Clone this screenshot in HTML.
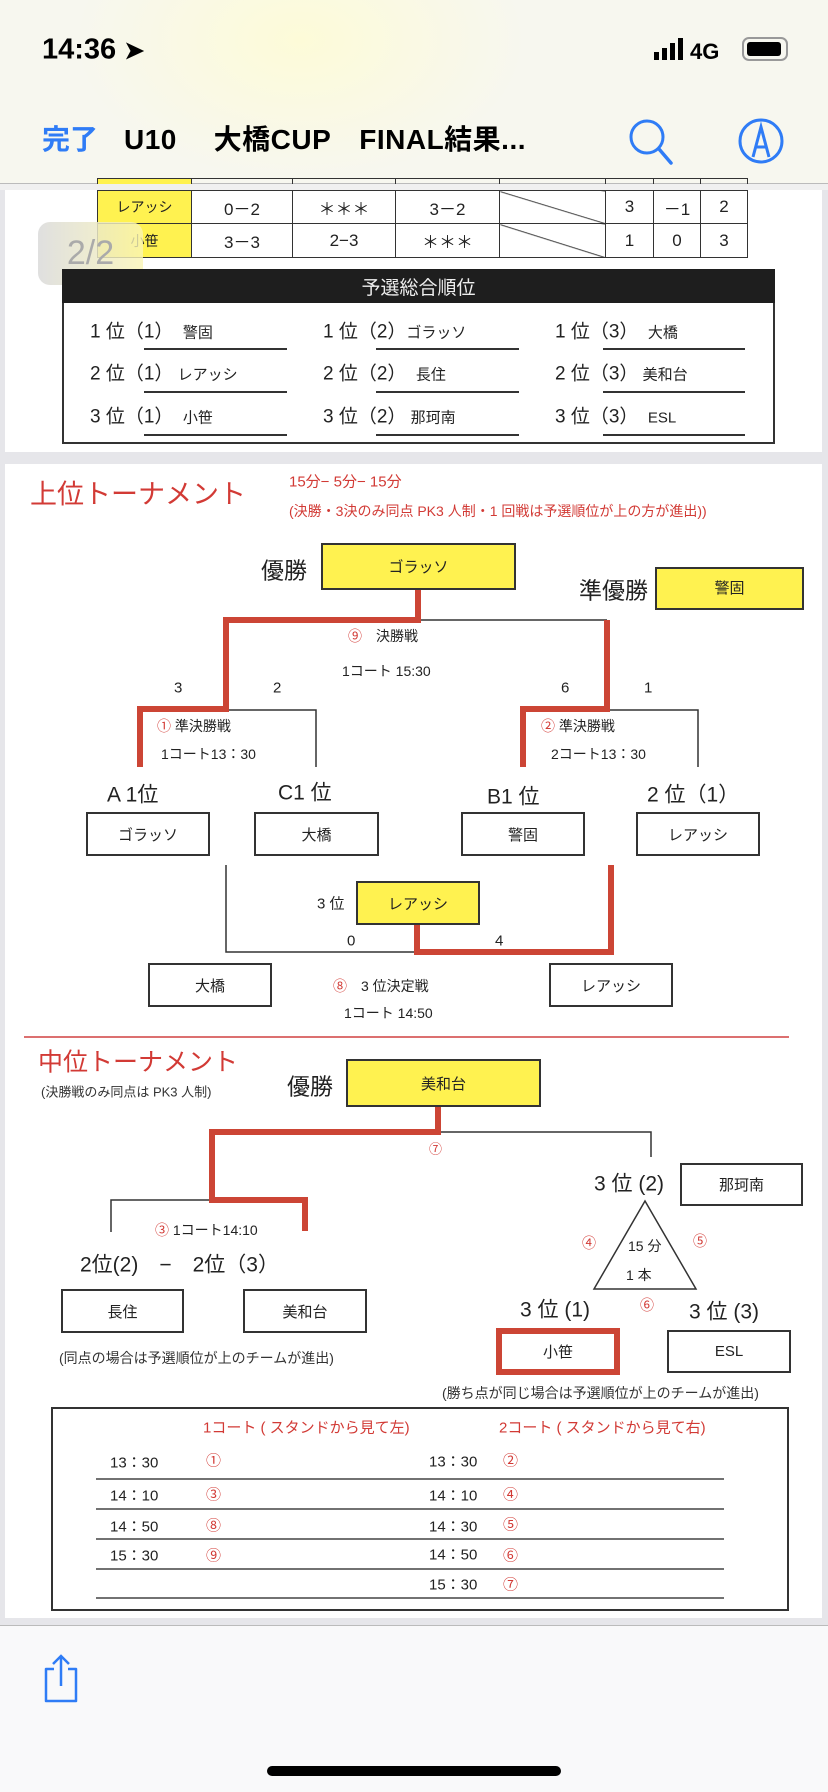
<!DOCTYPE html>
<html><head><meta charset="utf-8">
<style>
*{margin:0;padding:0;box-sizing:border-box}
body{width:828px;height:1792px;position:relative;overflow:hidden;background:#e6e6ea;font-family:"Liberation Sans","Noto Sans CJK JP",sans-serif;color:#222}
.a{position:absolute}
.t{position:absolute;white-space:nowrap;transform:translateY(-50%);line-height:1}
.bx{position:absolute;border:2px solid #333;background:#fff;display:flex;align-items:center;justify-content:center;font-size:15px}
.y{background:#fff250}
.r{color:#d23a35}
.c td{border:1.5px solid #333;text-align:center;font-size:17px}
</style></head><body>
<!-- status/nav -->
<div class="a" style="left:0;top:0;width:828px;height:184px;background:radial-gradient(ellipse 320px 200px at 300px 40px,#fdfbd8,#f7f7ef 70%);border-bottom:1px solid #bbb"></div>
<div class="t" style="left:42px;top:50px;font-size:29px;font-weight:bold;color:#000">14:36 <span style="font-size:24px">➤</span></div>
<svg class="a" style="left:650px;top:36px" width="140" height="28"><rect x="4" y="16" width="5" height="8" fill="#000"/><rect x="12" y="12" width="5" height="12" fill="#000"/><rect x="20" y="7" width="5" height="17" fill="#000"/><rect x="28" y="2" width="5" height="22" fill="#000"/><text x="40" y="23" font-size="22" font-family="Liberation Sans" font-weight="bold">4G</text><rect x="93" y="2" width="44" height="22" rx="6" fill="none" stroke="#999" stroke-width="2"/><rect x="97" y="6" width="34" height="14" rx="3" fill="#000"/></svg>
<div class="t" style="left:42px;top:140px;font-size:28px;font-weight:bold;color:#2f7cf6">完了</div>
<div class="t" style="left:124px;top:140px;font-size:28px;font-weight:bold;color:#000;letter-spacing:0.5px">U10　 大橋CUP　FINAL結果...</div>
<svg class="a" style="left:625px;top:115px" width="170" height="54"><circle cx="22" cy="22" r="16" fill="none" stroke="#2f7cf6" stroke-width="3"/><line x1="34" y1="34" x2="46" y2="48" stroke="#2f7cf6" stroke-width="3.5" stroke-linecap="round"/><circle cx="136" cy="26" r="21" fill="none" stroke="#2f7cf6" stroke-width="3"/><path d="M128 42 L136 12 L144 42 M131 32 L141 32" fill="none" stroke="#2f7cf6" stroke-width="3"/></svg>

<!-- page 1 -->
<div class="a" style="left:5px;top:185px;width:817px;height:267px;background:#fff"></div>
<table class="a c" style="left:97px;top:178px;border-collapse:collapse">
<tr style="height:12px"><td style="width:94px;background:#fff250"></td><td style="width:101px"></td><td style="width:103px"></td><td style="width:104px"></td><td style="width:106px"></td><td style="width:48px"></td><td style="width:47px"></td><td style="width:47px"></td></tr>
<tr style="height:33px"><td style="background:#fff250;font-size:14px">レアッシ</td><td>0－2</td><td>＊＊＊</td><td>3－2</td><td style="background:linear-gradient(to bottom left,transparent 49%,#333 50%,transparent 52%)"></td><td>3</td><td>－1</td><td>2</td></tr>
<tr style="height:34px"><td style="background:#fff250;font-size:14px">小笹</td><td>3－3</td><td>2−3</td><td>＊＊＊</td><td style="background:linear-gradient(to bottom left,transparent 49%,#333 50%,transparent 52%)"></td><td>1</td><td>0</td><td>3</td></tr>
</table>
<div class="a" style="left:0;top:184px;width:828px;height:6px;background:#f0f0f0"></div>
<div class="a" style="left:38px;top:222px;width:105px;height:63px;border-radius:12px;background:linear-gradient(90deg,rgba(220,220,220,.9),rgba(250,245,180,.8));color:#aaa;font-size:34px;display:flex;align-items:center;justify-content:center">2/2</div>
<div class="a" style="left:62px;top:269px;width:713px;height:175px;border:2px solid #333"></div>
<div class="a" style="left:62px;top:269px;width:713px;height:34px;background:#1e1e1e;color:#eee;font-size:19px;display:flex;align-items:center;justify-content:center">予選総合順位</div>
<div class="t" style="left:90px;top:332px;font-size:19px">1 位（1）　<span style="font-size:15px">警固</span></div>
<div class="t" style="left:323px;top:332px;font-size:19px">1 位（2）<span style="font-size:15px">ゴラッソ</span></div>
<div class="t" style="left:555px;top:332px;font-size:19px">1 位（3）　<span style="font-size:15px">大橋</span></div>
<div class="t" style="left:90px;top:374px;font-size:19px">2 位（1）<span style="font-size:15px"> レアッシ</span></div>
<div class="t" style="left:323px;top:374px;font-size:19px">2 位（2）　<span style="font-size:15px">長住</span></div>
<div class="t" style="left:555px;top:374px;font-size:19px">2 位（3）<span style="font-size:15px"> 美和台</span></div>
<div class="t" style="left:90px;top:417px;font-size:19px">3 位（1）　<span style="font-size:15px">小笹</span></div>
<div class="t" style="left:323px;top:417px;font-size:19px">3 位（2）<span style="font-size:15px"> 那珂南</span></div>
<div class="t" style="left:555px;top:417px;font-size:19px">3 位（3）　<span style="font-size:15px">ESL</span></div>
<svg class="a" style="left:0;top:0" width="828" height="460"><g stroke="#333" stroke-width="2"><line x1="144" y1="349" x2="287" y2="349"/><line x1="376" y1="349" x2="519" y2="349"/><line x1="603" y1="349" x2="745" y2="349"/><line x1="144" y1="392" x2="287" y2="392"/><line x1="376" y1="392" x2="519" y2="392"/><line x1="603" y1="392" x2="745" y2="392"/><line x1="144" y1="435" x2="287" y2="435"/><line x1="376" y1="435" x2="519" y2="435"/><line x1="603" y1="435" x2="745" y2="435"/></g></svg>

<!-- page 2 -->
<div class="a" style="left:5px;top:464px;width:817px;height:1154px;background:#fff"></div>
<div class="t r" style="left:30px;top:495px;font-size:27px">上位トーナメント</div>
<div class="t r" style="left:289px;top:482px;font-size:15px">15分− 5分− 15分</div>
<div class="t r" style="left:289px;top:511px;font-size:14px">(決勝・3決のみ同点 PK3 人制・1 回戦は予選順位が上の方が進出))</div>
<div class="bx y" style="left:321px;top:543px;width:195px;height:47px">ゴラッソ</div>
<div class="t" style="left:261px;top:571px;font-size:23px">優勝</div>
<div class="t" style="left:579px;top:591px;font-size:23px">準優勝</div>
<div class="bx y" style="left:655px;top:567px;width:149px;height:43px;align-items:flex-start;padding-top:8px">警固</div>

<svg class="a" style="left:0;top:0" width="828" height="1620">
<g fill="none" stroke="#333" stroke-width="1.5">
<polyline points="418,620 607,620"/>
<polyline points="607,710 698,710 698,767"/>
<polyline points="226,710 316,710 316,767"/>
<polyline points="226,865 226,952 417,952"/>
<polyline points="438,1132 651,1132 651,1157"/>
<polyline points="212,1200 111,1200 111,1232"/>
<polygon points="645,1201 594,1289 696,1289"/>
</g>
<g fill="none" stroke="#cc4535" stroke-width="6">
<polyline points="418,590 418,620 226,620 226,709 140,709 140,767"/>
<polyline points="607,620 607,709 523,709 523,767"/>
<polyline points="611,865 611,952 417,952 417,925"/>
<polyline points="438,1107 438,1132 212,1132 212,1200 305,1200 305,1231"/>
</g>
<line x1="24" y1="1037" x2="789" y2="1037" stroke="#d04040" stroke-width="1.5"/>
</svg>

<div class="t" style="left:348px;top:636px;font-size:14px"><span class="r">⑨</span>　決勝戦</div>
<div class="t" style="left:342px;top:671px;font-size:14px">1コート 15:30</div>
<div class="t" style="left:174px;top:688px;font-size:15px">3</div>
<div class="t" style="left:273px;top:688px;font-size:15px">2</div>
<div class="t" style="left:561px;top:688px;font-size:15px">6</div>
<div class="t" style="left:644px;top:688px;font-size:15px">1</div>
<div class="t" style="left:157px;top:726px;font-size:14px"><span class="r">①</span> 準決勝戦</div>
<div class="t" style="left:161px;top:754px;font-size:14px">1コート13：30</div>
<div class="t" style="left:541px;top:726px;font-size:14px"><span class="r">②</span> 準決勝戦</div>
<div class="t" style="left:551px;top:754px;font-size:14px">2コート13：30</div>
<div class="t" style="left:107px;top:795px;font-size:21px">A 1位</div>
<div class="t" style="left:278px;top:793px;font-size:21px">C1 位</div>
<div class="t" style="left:487px;top:797px;font-size:21px">B1 位</div>
<div class="t" style="left:647px;top:795px;font-size:21px">2 位（1）</div>
<div class="bx" style="left:86px;top:812px;width:124px;height:44px">ゴラッソ</div>
<div class="bx" style="left:254px;top:812px;width:125px;height:44px">大橋</div>
<div class="bx" style="left:461px;top:812px;width:124px;height:44px">警固</div>
<div class="bx" style="left:636px;top:812px;width:124px;height:44px">レアッシ</div>
<div class="bx y" style="left:356px;top:881px;width:124px;height:44px">レアッシ</div>
<div class="t" style="left:317px;top:904px;font-size:15px">3 位</div>
<div class="t" style="left:347px;top:941px;font-size:15px">0</div>
<div class="t" style="left:495px;top:941px;font-size:15px">4</div>
<div class="bx" style="left:148px;top:963px;width:124px;height:44px">大橋</div>
<div class="bx" style="left:549px;top:963px;width:124px;height:44px">レアッシ</div>
<div class="t" style="left:333px;top:986px;font-size:14px"><span class="r">⑧</span>　3 位決定戦</div>
<div class="t" style="left:344px;top:1013px;font-size:14px">1コート 14:50</div>

<div class="t r" style="left:38px;top:1063px;font-size:25px">中位トーナメント</div>
<div class="t" style="left:41px;top:1092px;font-size:13px;color:#333">(決勝戦のみ同点は PK3 人制)</div>
<div class="t" style="left:287px;top:1087px;font-size:23px">優勝</div>
<div class="bx y" style="left:346px;top:1059px;width:195px;height:48px">美和台</div>
<div class="t r" style="left:429px;top:1149px;font-size:13px">⑦</div>
<div class="t" style="left:155px;top:1230px;font-size:14px"><span class="r">③</span> 1コート14:10</div>
<div class="t" style="left:80px;top:1265px;font-size:21px">2位(2)　−　2位（3）</div>
<div class="bx" style="left:61px;top:1289px;width:123px;height:44px">長住</div>
<div class="bx" style="left:243px;top:1289px;width:124px;height:44px">美和台</div>
<div class="t" style="left:59px;top:1358px;font-size:14px;color:#333">(同点の場合は予選順位が上のチームが進出)</div>
<div class="t" style="left:594px;top:1184px;font-size:21px">3 位 (2)</div>
<div class="bx" style="left:680px;top:1163px;width:123px;height:43px">那珂南</div>
<div class="t" style="left:628px;top:1246px;font-size:14px">15 分</div>
<div class="t" style="left:626px;top:1275px;font-size:14px">1 本</div>
<div class="t r" style="left:582px;top:1243px;font-size:14px">④</div>
<div class="t r" style="left:693px;top:1241px;font-size:14px">⑤</div>
<div class="t r" style="left:640px;top:1305px;font-size:14px">⑥</div>
<div class="t" style="left:520px;top:1310px;font-size:21px">3 位 (1)</div>
<div class="t" style="left:689px;top:1312px;font-size:21px">3 位 (3)</div>
<div class="bx" style="left:496px;top:1328px;width:124px;height:47px;border:6px solid #cc4535">小笹</div>
<div class="bx" style="left:667px;top:1330px;width:124px;height:43px">ESL</div>
<div class="t" style="left:442px;top:1393px;font-size:14px;color:#333">(勝ち点が同じ場合は予選順位が上のチームが進出)</div>

<div class="a" style="left:51px;top:1407px;width:738px;height:204px;border:2px solid #333"></div>
<div class="t r" style="left:203px;top:1428px;font-size:15px">1コート ( スタンドから見て左)</div>
<div class="t r" style="left:499px;top:1428px;font-size:15px">2コート ( スタンドから見て右)</div>
<svg class="a" style="left:0;top:1400px" width="828" height="210"><g stroke="#444" stroke-width="1.5"><line x1="96" y1="79" x2="724" y2="79"/><line x1="96" y1="109" x2="724" y2="109"/><line x1="96" y1="139" x2="724" y2="139"/><line x1="96" y1="169" x2="724" y2="169"/><line x1="96" y1="198" x2="724" y2="198"/></g></svg>
<div class="t" style="left:110px;top:1463px;font-size:15px">13：30</div><div class="t r" style="left:206px;top:1461px;font-size:15px">①</div>
<div class="t" style="left:110px;top:1496px;font-size:15px">14：10</div><div class="t r" style="left:206px;top:1495px;font-size:15px">③</div>
<div class="t" style="left:110px;top:1527px;font-size:15px">14：50</div><div class="t r" style="left:206px;top:1526px;font-size:15px">⑧</div>
<div class="t" style="left:110px;top:1556px;font-size:15px">15：30</div><div class="t r" style="left:206px;top:1556px;font-size:15px">⑨</div>
<div class="t" style="left:429px;top:1462px;font-size:15px">13：30</div><div class="t r" style="left:503px;top:1461px;font-size:15px">②</div>
<div class="t" style="left:429px;top:1496px;font-size:15px">14：10</div><div class="t r" style="left:503px;top:1495px;font-size:15px">④</div>
<div class="t" style="left:429px;top:1527px;font-size:15px">14：30</div><div class="t r" style="left:503px;top:1525px;font-size:15px">⑤</div>
<div class="t" style="left:429px;top:1555px;font-size:15px">14：50</div><div class="t r" style="left:503px;top:1556px;font-size:15px">⑥</div>
<div class="t" style="left:429px;top:1585px;font-size:15px">15：30</div><div class="t r" style="left:503px;top:1585px;font-size:15px">⑦</div>

<!-- toolbar -->
<div class="a" style="left:0;top:1625px;width:828px;height:167px;background:#f9f9fa;border-top:1px solid #bbb"></div>
<svg class="a" style="left:40px;top:1650px" width="50" height="60"><path d="M14 19 H6 V51 H36 V19 H28" fill="none" stroke="#2f7cf6" stroke-width="2.5" stroke-linejoin="round"/><line x1="21" y1="6" x2="21" y2="36" stroke="#2f7cf6" stroke-width="2.5"/><polyline points="13,14 21,6 29,14" fill="none" stroke="#2f7cf6" stroke-width="2.5"/></svg>
<div class="a" style="left:267px;top:1766px;width:294px;height:10px;border-radius:5px;background:#000"></div>
</body></html>
